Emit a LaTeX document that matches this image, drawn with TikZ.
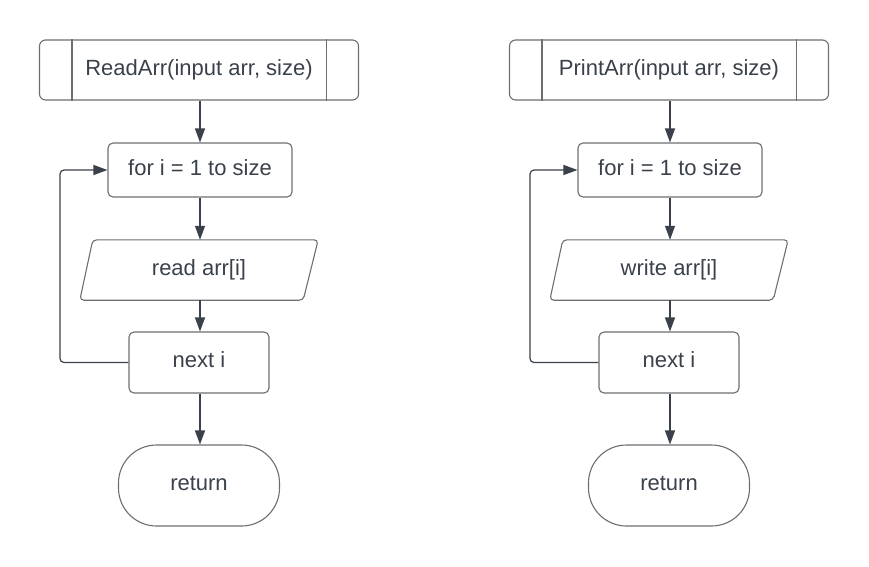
\documentclass[tikz,border=0pt]{standalone}
\usepackage{fontspec}
\setmainfont{Liberation Sans}
\usetikzlibrary{arrows.meta}
\definecolor{txt}{HTML}{3A414A}
\definecolor{edge}{HTML}{6B6E72}
\definecolor{arrc}{HTML}{3A414A}
\tikzset{
  base/.style={text=txt, font=\fontsize{22}{26}\selectfont, inner sep=0pt, text height=16pt, text depth=6pt},
  subbox/.style={base, draw=edge, line width=1.1pt, rounded corners=6pt, minimum width=319pt, minimum height=60pt},
  procbox/.style={base, draw=edge, line width=1.1pt, rounded corners=5pt},
  iobox/.style={base, minimum width=238pt, minimum height=60pt},
  iodraw/.style={draw=edge, line width=1.1pt, rounded corners=4pt},
  termbox/.style={base, draw=edge, line width=1.1pt, rounded corners=38pt, minimum width=161pt, minimum height=81pt},
  arr/.style={draw=arrc, line width=1.2pt, -{Triangle[length=14pt,width=10pt]}},
  looparr/.style={arr, rounded corners=4pt},
}
\begin{document}
\begin{tikzpicture}[x=1pt,y=-1pt]
\useasboundingbox (0,0) rectangle (869,566);
\foreach \dx/\sub/\act/\nm in {0/ReadArr/read/L, 470/PrintArr/write/R}{
  \node[subbox] (sub\nm) at (199+\dx,70) {\sub(input arr, size)};
  \draw[edge, line width=1.1pt] ([xshift=33pt]sub\nm.north west) -- ([xshift=33pt]sub\nm.south west);
  \draw[edge, line width=1.1pt] ([xshift=-33pt]sub\nm.north east) -- ([xshift=-33pt]sub\nm.south east);
  \node[procbox, minimum width=184pt, minimum height=54pt] (for\nm) at (200+\dx,170) {for i = 1 to size};
  \node[iobox] (io\nm) at (199+\dx,270) {\act\ arr[i]};
  \draw[iodraw] ([xshift=-13pt]io\nm.north east) -- (io\nm.north east) -- ([xshift=-15pt]io\nm.south east)
     -- (io\nm.south west) -- ([xshift=13pt]io\nm.north west) -- cycle;
  \node[procbox, minimum width=140pt, minimum height=61pt] (next\nm) at (199+\dx,362.5) {next i};
  \node[termbox] (ret\nm) at (199+\dx,485.5) {return};
  \coordinate (loop\nm) at (60+\dx,0);
  \draw[arr] (sub\nm.south -| for\nm.north) -- (for\nm.north);
  \draw[arr] (for\nm.south) -- (for\nm.south |- io\nm.north);
  \draw[arr] (for\nm.south |- io\nm.south) -- (for\nm.south |- next\nm.north);
  \draw[arr] (for\nm.south |- next\nm.south) -- (for\nm.south |- ret\nm.north);
  \draw[looparr] (next\nm.west) -- (next\nm.west -| loop\nm) |- (for\nm.west);
}
\end{tikzpicture}
\end{document}
